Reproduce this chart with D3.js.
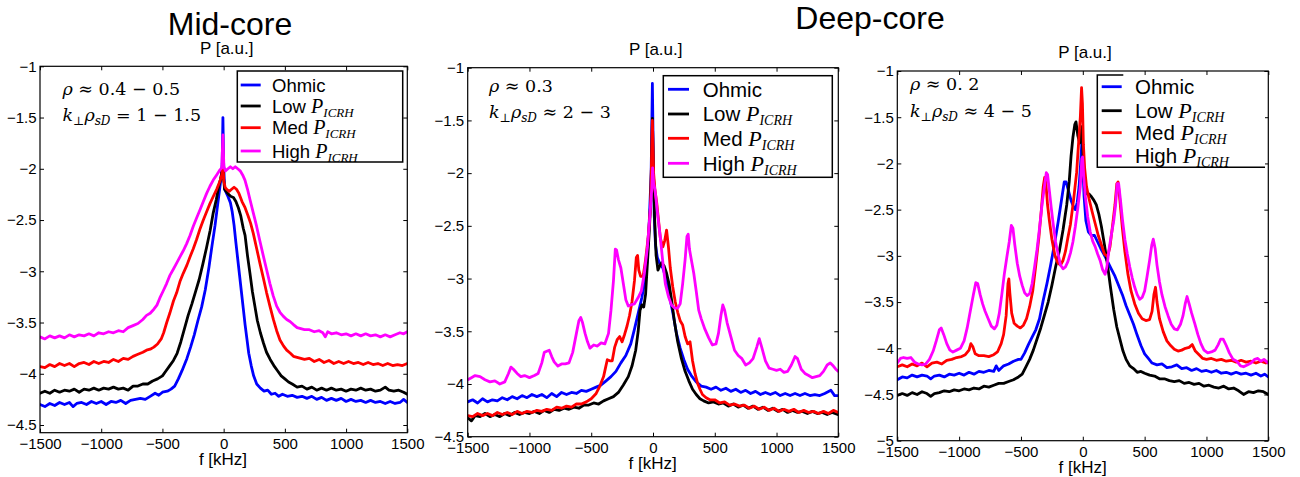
<!DOCTYPE html>
<html><head><meta charset="utf-8">
<script src="https://cdn.jsdelivr.net/npm/d3@7"></script>
<style>
body{margin:0;background:#fff;}
svg text{font-family:"Liberation Sans",Arial,Helvetica,sans-serif;fill:#000;}
</style></head><body>
<svg id="c" width="1300" height="477"></svg>
<script>
// ---------- data ----------
const seriesNames = ["Ohmic","Low","Med","High"];
const seriesHasP = [false,true,true,true];
const seriesColors = ["#0000ff","#000000","#ff0000","#ff00ff"];
const xTickValues = [-1500,-1000,-500,0,500,1000,1500];
const xTickLabels = ["\u22121500","\u22121000","\u2212500","0","500","1000","1500"];
const yTickValuesA = [-4.5,-4,-3.5,-3,-2.5,-2,-1.5,-1];
const yTickLabelsA = ["\u22124.5","\u22124","\u22123.5","\u22123","\u22122.5","\u22122","\u22121.5","\u22121"];
const yTickValuesB = [-5,-4.5,-4,-3.5,-3,-2.5,-2,-1.5,-1];
const yTickLabelsB = ["\u22125","\u22124.5","\u22124","\u22123.5","\u22123","\u22122.5","\u22122","\u22121.5","\u22121"];

// Mid-core (rho ~ 0.4-0.5)
const midOhmic = [[-1500,-4.30],[-1460,-4.32],[-1420,-4.29],[-1380,-4.31],[-1340,-4.28],[-1300,-4.30],[-1260,-4.28],[-1230,-4.32],[-1200,-4.29],[-1160,-4.28],[-1120,-4.30],[-1080,-4.27],[-1040,-4.29],[-1000,-4.27],[-960,-4.30],[-920,-4.27],[-880,-4.28],[-840,-4.26],[-800,-4.29],[-760,-4.26],[-720,-4.25],[-680,-4.24],[-640,-4.25],[-600,-4.22],[-560,-4.19],[-530,-4.21],[-500,-4.18],[-460,-4.17],[-430,-4.15],[-400,-4.12],[-370,-4.05],[-340,-3.97],[-300,-3.85],[-270,-3.74],[-240,-3.62],[-210,-3.48],[-180,-3.35],[-150,-3.18],[-120,-2.96],[-95,-2.75],[-70,-2.55],[-50,-2.36],[-35,-2.22],[-20,-2.08],[-12,-1.95],[-6,-1.50],[0,-1.95],[8,-2.20],[20,-2.23],[35,-2.27],[55,-2.33],[70,-2.42],[85,-2.55],[100,-2.72],[115,-2.88],[130,-3.04],[145,-3.20],[160,-3.36],[175,-3.52],[190,-3.66],[205,-3.80],[225,-3.92],[245,-4.02],[270,-4.10],[300,-4.14],[330,-4.17],[360,-4.16],[390,-4.20],[420,-4.19],[450,-4.22],[480,-4.20],[520,-4.22],[560,-4.21],[600,-4.23],[640,-4.22],[680,-4.24],[720,-4.22],[760,-4.25],[800,-4.23],[840,-4.26],[880,-4.24],[920,-4.26],[960,-4.24],[1000,-4.27],[1040,-4.25],[1080,-4.27],[1120,-4.26],[1160,-4.28],[1200,-4.26],[1240,-4.28],[1280,-4.27],[1320,-4.29],[1360,-4.27],[1400,-4.29],[1440,-4.28],[1470,-4.25],[1500,-4.28]];
const midLow = [[-1500,-4.19],[-1460,-4.17],[-1420,-4.19],[-1380,-4.16],[-1340,-4.18],[-1300,-4.16],[-1260,-4.17],[-1220,-4.15],[-1180,-4.18],[-1140,-4.15],[-1100,-4.16],[-1060,-4.14],[-1020,-4.16],[-980,-4.14],[-940,-4.15],[-900,-4.13],[-860,-4.15],[-820,-4.14],[-780,-4.16],[-740,-4.12],[-700,-4.12],[-660,-4.10],[-620,-4.10],[-580,-4.07],[-540,-4.05],[-500,-4.02],[-470,-3.97],[-440,-3.92],[-410,-3.87],[-380,-3.80],[-350,-3.69],[-320,-3.56],[-290,-3.43],[-260,-3.32],[-230,-3.20],[-200,-3.08],[-170,-2.93],[-140,-2.77],[-110,-2.60],[-85,-2.43],[-60,-2.30],[-40,-2.17],[-25,-2.10],[-12,-2.02],[-6,-1.97],[0,-2.10],[8,-2.20],[20,-2.22],[40,-2.25],[60,-2.27],[80,-2.28],[100,-2.32],[120,-2.38],[140,-2.46],[160,-2.58],[175,-2.65],[195,-2.85],[215,-3.02],[235,-3.20],[255,-3.34],[275,-3.48],[300,-3.60],[325,-3.70],[350,-3.79],[380,-3.86],[410,-3.92],[440,-3.97],[470,-4.02],[500,-4.05],[530,-4.08],[560,-4.10],[600,-4.13],[640,-4.12],[680,-4.15],[720,-4.13],[760,-4.16],[800,-4.14],[840,-4.16],[880,-4.14],[920,-4.16],[960,-4.15],[1000,-4.17],[1040,-4.15],[1080,-4.16],[1120,-4.14],[1160,-4.16],[1200,-4.15],[1240,-4.17],[1280,-4.16],[1320,-4.13],[1350,-4.16],[1390,-4.17],[1430,-4.16],[1470,-4.18],[1500,-4.20]];
const midMed = [[-1500,-3.93],[-1460,-3.94],[-1420,-3.91],[-1380,-3.93],[-1340,-3.90],[-1300,-3.92],[-1260,-3.90],[-1220,-3.93],[-1180,-3.90],[-1140,-3.89],[-1100,-3.91],[-1060,-3.88],[-1020,-3.90],[-980,-3.88],[-940,-3.89],[-900,-3.86],[-860,-3.88],[-820,-3.85],[-780,-3.86],[-740,-3.83],[-700,-3.81],[-660,-3.79],[-630,-3.77],[-600,-3.76],[-570,-3.74],[-540,-3.71],[-510,-3.66],[-490,-3.60],[-465,-3.50],[-440,-3.41],[-410,-3.29],[-384,-3.21],[-357,-3.10],[-330,-3.02],[-300,-2.94],[-275,-2.86],[-248,-2.78],[-221,-2.69],[-194,-2.59],[-166,-2.50],[-139,-2.42],[-112,-2.34],[-85,-2.27],[-57,-2.20],[-30,-2.12],[-15,-2.06],[-6,-1.96],[2,-2.12],[12,-2.18],[25,-2.20],[45,-2.22],[65,-2.20],[85,-2.18],[105,-2.20],[125,-2.24],[150,-2.32],[175,-2.38],[200,-2.46],[220,-2.53],[242,-2.63],[270,-2.78],[296,-2.92],[325,-3.07],[351,-3.21],[380,-3.35],[406,-3.47],[433,-3.58],[460,-3.67],[490,-3.73],[515,-3.77],[545,-3.80],[570,-3.83],[600,-3.84],[630,-3.85],[660,-3.86],[700,-3.85],[740,-3.88],[780,-3.86],[820,-3.89],[860,-3.87],[900,-3.90],[940,-3.88],[980,-3.90],[1020,-3.88],[1060,-3.90],[1100,-3.89],[1140,-3.91],[1180,-3.89],[1220,-3.91],[1260,-3.90],[1300,-3.92],[1340,-3.90],[1380,-3.92],[1420,-3.91],[1460,-3.92],[1500,-3.90]];
const midHigh = [[-1500,-3.64],[-1460,-3.66],[-1420,-3.63],[-1380,-3.65],[-1340,-3.63],[-1300,-3.65],[-1260,-3.62],[-1220,-3.64],[-1180,-3.62],[-1140,-3.63],[-1100,-3.61],[-1060,-3.63],[-1020,-3.60],[-980,-3.61],[-940,-3.59],[-900,-3.60],[-860,-3.58],[-820,-3.59],[-780,-3.55],[-740,-3.53],[-700,-3.51],[-660,-3.47],[-630,-3.43],[-600,-3.41],[-570,-3.37],[-545,-3.33],[-521,-3.26],[-493,-3.19],[-466,-3.12],[-439,-3.04],[-411,-2.98],[-384,-2.92],[-357,-2.86],[-330,-2.80],[-302,-2.73],[-275,-2.65],[-248,-2.56],[-221,-2.48],[-193,-2.40],[-166,-2.32],[-139,-2.24],[-112,-2.17],[-85,-2.11],[-57,-2.06],[-30,-2.01],[-15,-1.99],[-6,-1.67],[2,-1.98],[15,-2.02],[35,-2.00],[55,-1.98],[75,-2.00],[95,-1.98],[115,-2.00],[135,-2.02],[155,-2.06],[174,-2.11],[195,-2.20],[215,-2.30],[240,-2.42],[269,-2.56],[295,-2.70],[324,-2.85],[350,-2.98],[378,-3.12],[405,-3.24],[433,-3.34],[460,-3.40],[488,-3.44],[515,-3.47],[542,-3.49],[570,-3.52],[600,-3.55],[630,-3.56],[660,-3.57],[700,-3.57],[740,-3.59],[780,-3.58],[810,-3.60],[830,-3.64],[850,-3.59],[880,-3.61],[920,-3.60],[960,-3.62],[1000,-3.61],[1040,-3.63],[1080,-3.61],[1120,-3.63],[1160,-3.61],[1200,-3.63],[1240,-3.62],[1280,-3.64],[1320,-3.62],[1360,-3.64],[1400,-3.62],[1440,-3.60],[1470,-3.61],[1500,-3.59]];

// Deep-core (rho ~ 0.3)
const d3Ohmic = [[-1500,-4.17],[-1460,-4.15],[-1420,-4.18],[-1380,-4.14],[-1340,-4.17],[-1300,-4.15],[-1260,-4.16],[-1220,-4.13],[-1180,-4.15],[-1140,-4.12],[-1100,-4.14],[-1060,-4.11],[-1020,-4.13],[-980,-4.10],[-940,-4.12],[-900,-4.10],[-860,-4.13],[-820,-4.09],[-780,-4.12],[-740,-4.08],[-700,-4.10],[-660,-4.08],[-620,-4.09],[-580,-4.06],[-540,-4.07],[-500,-4.05],[-460,-4.03],[-420,-4.01],[-380,-3.97],[-340,-3.93],[-300,-3.88],[-260,-3.80],[-220,-3.73],[-180,-3.62],[-150,-3.48],[-120,-3.33],[-90,-3.18],[-70,-3.05],[-50,-2.85],[-30,-2.45],[-15,-2.0],[-5,-1.15],[3,-1.9],[10,-2.4],[20,-2.68],[35,-2.80],[55,-2.86],[80,-2.90],[100,-2.98],[130,-3.15],[160,-3.32],[190,-3.52],[220,-3.66],[250,-3.77],[280,-3.86],[310,-3.92],[350,-3.98],[390,-4.02],[430,-4.03],[470,-4.05],[510,-4.03],[550,-4.06],[590,-4.04],[630,-4.07],[670,-4.05],[710,-4.08],[750,-4.06],[790,-4.09],[830,-4.07],[870,-4.10],[910,-4.08],[950,-4.10],[990,-4.08],[1030,-4.11],[1070,-4.09],[1110,-4.11],[1150,-4.09],[1190,-4.11],[1230,-4.09],[1270,-4.11],[1310,-4.10],[1350,-4.11],[1390,-4.09],[1440,-4.06],[1470,-4.11],[1500,-4.11]];
const d3Low = [[-1500,-4.32],[-1470,-4.35],[-1440,-4.30],[-1400,-4.31],[-1360,-4.28],[-1320,-4.31],[-1280,-4.29],[-1240,-4.31],[-1200,-4.28],[-1160,-4.30],[-1120,-4.27],[-1080,-4.29],[-1040,-4.27],[-1000,-4.28],[-960,-4.26],[-920,-4.28],[-880,-4.25],[-840,-4.27],[-800,-4.24],[-760,-4.25],[-720,-4.23],[-680,-4.24],[-640,-4.22],[-600,-4.23],[-560,-4.20],[-520,-4.20],[-480,-4.18],[-440,-4.19],[-400,-4.16],[-360,-4.14],[-320,-4.12],[-280,-4.08],[-240,-4.01],[-200,-3.93],[-170,-3.83],[-140,-3.68],[-120,-3.50],[-105,-3.30],[-90,-3.25],[-75,-3.27],[-60,-3.15],[-45,-2.85],[-30,-2.55],[-18,-2.25],[-5,-1.48],[4,-2.0],[12,-2.4],[25,-2.78],[40,-2.92],[55,-2.88],[70,-2.85],[90,-2.88],[110,-2.95],[130,-3.05],[150,-3.20],[175,-3.42],[200,-3.60],[230,-3.76],[260,-3.88],[290,-3.97],[320,-4.05],[350,-4.10],[380,-4.14],[410,-4.16],[450,-4.18],[490,-4.17],[530,-4.19],[570,-4.18],[610,-4.21],[650,-4.19],[690,-4.22],[730,-4.20],[770,-4.23],[810,-4.21],[850,-4.24],[890,-4.22],[930,-4.25],[970,-4.23],[1010,-4.26],[1050,-4.24],[1090,-4.27],[1130,-4.25],[1170,-4.27],[1210,-4.26],[1250,-4.28],[1290,-4.26],[1330,-4.28],[1370,-4.27],[1410,-4.29],[1450,-4.27],[1500,-4.29]];
const d3Med = [[-1500,-4.30],[-1460,-4.31],[-1420,-4.28],[-1380,-4.30],[-1340,-4.28],[-1300,-4.30],[-1260,-4.27],[-1220,-4.29],[-1180,-4.27],[-1140,-4.29],[-1100,-4.26],[-1060,-4.28],[-1020,-4.26],[-980,-4.27],[-940,-4.25],[-900,-4.26],[-860,-4.24],[-820,-4.25],[-780,-4.22],[-740,-4.23],[-700,-4.21],[-660,-4.22],[-620,-4.19],[-580,-4.19],[-540,-4.17],[-500,-4.14],[-460,-4.09],[-430,-4.02],[-400,-3.93],[-385,-3.85],[-370,-3.77],[-350,-3.78],[-330,-3.78],[-310,-3.65],[-290,-3.58],[-270,-3.55],[-250,-3.60],[-230,-3.53],[-210,-3.45],[-190,-3.35],[-170,-3.22],[-150,-3.02],[-135,-2.80],[-125,-2.78],[-115,-2.92],[-100,-2.98],[-80,-2.98],[-60,-2.82],[-40,-2.62],[-20,-2.32],[-5,-1.50],[5,-2.0],[15,-2.15],[30,-2.28],[45,-2.45],[60,-2.62],[80,-2.70],[95,-2.64],[110,-2.54],[125,-2.70],[140,-2.90],[160,-3.08],[180,-3.22],[200,-3.32],[220,-3.40],[240,-3.44],[260,-3.55],[280,-3.62],[300,-3.60],[320,-3.78],[340,-3.90],[360,-3.99],[380,-4.05],[400,-4.10],[430,-4.13],[460,-4.15],[500,-4.15],[540,-4.18],[580,-4.17],[620,-4.20],[660,-4.19],[700,-4.21],[740,-4.20],[780,-4.23],[820,-4.21],[860,-4.24],[900,-4.22],[940,-4.25],[980,-4.23],[1020,-4.26],[1060,-4.24],[1100,-4.26],[1140,-4.24],[1180,-4.27],[1220,-4.25],[1260,-4.27],[1300,-4.26],[1340,-4.28],[1380,-4.26],[1420,-4.28],[1460,-4.25],[1500,-4.27]];
const d3High = [[-1500,-3.96],[-1470,-3.94],[-1440,-3.92],[-1400,-3.93],[-1360,-3.96],[-1320,-3.98],[-1280,-3.97],[-1240,-4.00],[-1200,-3.98],[-1170,-3.90],[-1150,-3.84],[-1130,-3.86],[-1100,-3.90],[-1070,-3.93],[-1040,-3.92],[-1000,-3.94],[-960,-3.92],[-930,-3.90],[-900,-3.80],[-880,-3.70],[-860,-3.69],[-840,-3.68],[-820,-3.74],[-800,-3.79],[-770,-3.83],[-740,-3.81],[-710,-3.81],[-680,-3.80],[-650,-3.70],[-620,-3.52],[-600,-3.40],[-585,-3.37],[-570,-3.42],[-550,-3.52],[-530,-3.60],[-510,-3.66],[-480,-3.63],[-450,-3.64],[-420,-3.61],[-390,-3.62],[-360,-3.52],[-340,-3.30],[-320,-3.02],[-305,-2.72],[-295,-2.73],[-280,-2.82],[-260,-2.90],[-240,-3.05],[-220,-3.20],[-200,-3.26],[-180,-3.25],[-150,-3.24],[-120,-3.18],[-95,-3.12],[-70,-2.95],[-45,-2.70],[-25,-2.40],[-10,-2.15],[-3,-1.95],[5,-2.1],[15,-2.15],[25,-2.25],[40,-2.42],[60,-2.62],[80,-2.85],[100,-3.05],[125,-3.17],[150,-3.25],[175,-3.28],[200,-3.28],[220,-3.24],[240,-3.05],[260,-2.82],[275,-2.60],[285,-2.58],[295,-2.72],[310,-2.82],[330,-2.95],[350,-3.12],[370,-3.30],[390,-3.38],[420,-3.48],[450,-3.56],[480,-3.63],[510,-3.62],[530,-3.52],[550,-3.35],[565,-3.25],[580,-3.30],[600,-3.42],[630,-3.55],[660,-3.68],[690,-3.73],[720,-3.76],[750,-3.82],[780,-3.80],[810,-3.76],[840,-3.65],[860,-3.57],[880,-3.65],[910,-3.78],[940,-3.85],[970,-3.86],[1000,-3.87],[1030,-3.86],[1060,-3.89],[1090,-3.88],[1120,-3.82],[1150,-3.74],[1170,-3.76],[1200,-3.86],[1230,-3.90],[1260,-3.92],[1290,-3.94],[1320,-3.93],[1350,-3.92],[1380,-3.88],[1410,-3.82],[1435,-3.80],[1460,-3.83],[1480,-3.86],[1500,-3.88]];

// Deep-core (rho ~ 0.2)
const d2Ohmic = [[-1500,-4.34],[-1460,-4.31],[-1420,-4.32],[-1380,-4.29],[-1340,-4.31],[-1300,-4.29],[-1260,-4.30],[-1230,-4.33],[-1200,-4.30],[-1160,-4.29],[-1120,-4.31],[-1080,-4.28],[-1040,-4.29],[-1000,-4.27],[-960,-4.29],[-920,-4.26],[-880,-4.28],[-840,-4.25],[-800,-4.26],[-760,-4.24],[-720,-4.25],[-700,-4.19],[-680,-4.24],[-640,-4.19],[-600,-4.17],[-560,-4.14],[-520,-4.12],[-500,-4.12],[-470,-4.05],[-440,-3.96],[-410,-3.88],[-380,-3.80],[-350,-3.68],[-320,-3.48],[-290,-3.30],[-260,-3.10],[-230,-2.88],[-200,-2.64],[-175,-2.42],[-150,-2.20],[-135,-2.20],[-115,-2.30],[-95,-2.40],[-75,-2.47],[-60,-2.50],[-45,-2.42],[-30,-2.25],[-15,-1.95],[-8,-1.78],[0,-2.0],[10,-2.35],[25,-2.62],[45,-2.74],[70,-2.78],[95,-2.78],[120,-2.85],[145,-2.92],[170,-2.98],[200,-3.06],[230,-3.14],[260,-3.22],[290,-3.32],[320,-3.42],[350,-3.54],[380,-3.64],[410,-3.74],[440,-3.86],[470,-3.97],[500,-4.06],[530,-4.11],[560,-4.16],[600,-4.18],[640,-4.17],[680,-4.21],[720,-4.20],[760,-4.18],[800,-4.22],[840,-4.21],[880,-4.24],[920,-4.22],[960,-4.25],[1000,-4.24],[1040,-4.26],[1080,-4.24],[1120,-4.27],[1160,-4.26],[1200,-4.28],[1240,-4.26],[1280,-4.28],[1320,-4.27],[1360,-4.29],[1400,-4.27],[1440,-4.30],[1470,-4.28],[1500,-4.31]];
const d2Low = [[-1500,-4.51],[-1460,-4.49],[-1420,-4.51],[-1380,-4.48],[-1340,-4.50],[-1300,-4.47],[-1260,-4.49],[-1230,-4.52],[-1200,-4.49],[-1160,-4.48],[-1120,-4.46],[-1080,-4.47],[-1040,-4.45],[-1000,-4.46],[-960,-4.44],[-920,-4.45],[-880,-4.43],[-840,-4.44],[-800,-4.41],[-760,-4.42],[-720,-4.40],[-680,-4.38],[-640,-4.38],[-600,-4.36],[-560,-4.34],[-520,-4.31],[-490,-4.28],[-460,-4.20],[-430,-4.12],[-400,-4.02],[-370,-3.90],[-340,-3.78],[-310,-3.64],[-280,-3.50],[-250,-3.32],[-220,-3.12],[-190,-2.95],[-160,-2.72],[-130,-2.45],[-110,-2.20],[-95,-1.92],[-80,-1.72],[-65,-1.58],[-55,-1.55],[-40,-1.70],[-25,-1.78],[-12,-1.62],[-5,-1.60],[5,-2.05],[15,-2.28],[30,-2.33],[50,-2.33],[70,-2.36],[90,-2.40],[110,-2.45],[130,-2.55],[150,-2.68],[175,-2.88],[200,-3.10],[225,-3.35],[250,-3.58],[275,-3.77],[300,-3.90],[325,-4.03],[350,-4.12],[380,-4.19],[410,-4.22],[440,-4.26],[470,-4.25],[500,-4.27],[540,-4.29],[580,-4.30],[620,-4.33],[660,-4.33],[700,-4.35],[740,-4.36],[780,-4.35],[820,-4.38],[860,-4.37],[900,-4.39],[940,-4.38],[980,-4.41],[1020,-4.40],[1060,-4.42],[1100,-4.43],[1140,-4.41],[1180,-4.44],[1220,-4.43],[1260,-4.46],[1300,-4.50],[1340,-4.47],[1380,-4.48],[1420,-4.46],[1460,-4.47],[1500,-4.50]];
const d2Med = [[-1500,-4.20],[-1460,-4.18],[-1420,-4.20],[-1380,-4.17],[-1340,-4.19],[-1300,-4.16],[-1260,-4.20],[-1220,-4.16],[-1180,-4.15],[-1140,-4.17],[-1100,-4.13],[-1060,-4.12],[-1020,-4.10],[-980,-4.09],[-950,-4.07],[-920,-4.02],[-905,-3.95],[-890,-3.98],[-870,-4.06],[-840,-4.08],[-800,-4.08],[-760,-4.09],[-720,-4.07],[-690,-4.04],[-660,-3.95],[-640,-3.85],[-620,-3.65],[-605,-3.30],[-598,-3.25],[-590,-3.40],[-575,-3.62],[-555,-3.73],[-530,-3.76],[-505,-3.78],[-480,-3.75],[-455,-3.68],[-430,-3.55],[-405,-3.38],[-380,-3.10],[-355,-2.80],[-335,-2.50],[-320,-2.25],[-308,-2.15],[-298,-2.22],[-285,-2.45],[-270,-2.62],[-250,-2.82],[-225,-3.00],[-200,-3.08],[-180,-3.10],[-160,-3.05],[-140,-2.95],[-120,-2.80],[-100,-2.66],[-75,-2.40],[-50,-2.10],[-35,-1.80],[-20,-1.50],[-10,-1.18],[-3,-1.35],[5,-1.80],[15,-2.05],[30,-2.25],[50,-2.38],[75,-2.52],[100,-2.65],[125,-2.78],[150,-2.88],[175,-2.98],[200,-3.01],[220,-2.90],[240,-2.68],[260,-2.45],[275,-2.22],[285,-2.20],[300,-2.40],[320,-2.70],[340,-2.95],[365,-3.20],[390,-3.38],[420,-3.52],[450,-3.62],[480,-3.68],[510,-3.70],[540,-3.69],[560,-3.60],[575,-3.42],[588,-3.34],[600,-3.50],[620,-3.68],[650,-3.82],[680,-3.92],[710,-3.97],[740,-4.01],[770,-4.03],[800,-4.02],[830,-4.00],[860,-3.99],[885,-3.96],[910,-4.03],[940,-4.07],[970,-4.11],[1000,-4.12],[1040,-4.11],[1080,-4.13],[1120,-4.12],[1160,-4.14],[1200,-4.13],[1240,-4.15],[1280,-4.13],[1320,-4.15],[1360,-4.14],[1400,-4.16],[1440,-4.14],[1480,-4.16],[1500,-4.15]];
const d2High = [[-1500,-4.16],[-1475,-4.11],[-1450,-4.10],[-1420,-4.11],[-1390,-4.10],[-1360,-4.15],[-1330,-4.17],[-1300,-4.18],[-1270,-4.17],[-1240,-4.12],[-1210,-4.03],[-1185,-3.92],[-1160,-3.80],[-1145,-3.78],[-1125,-3.85],[-1100,-3.95],[-1075,-4.02],[-1050,-4.04],[-1020,-4.02],[-990,-4.00],[-960,-3.92],[-935,-3.78],[-910,-3.60],[-885,-3.42],[-865,-3.29],[-850,-3.30],[-830,-3.42],[-810,-3.52],[-790,-3.60],[-765,-3.68],[-740,-3.76],[-715,-3.79],[-695,-3.75],[-675,-3.62],[-655,-3.42],[-635,-3.20],[-615,-3.02],[-595,-2.85],[-578,-2.67],[-565,-2.70],[-550,-2.88],[-530,-3.08],[-510,-3.22],[-490,-3.32],[-470,-3.40],[-450,-3.43],[-430,-3.41],[-410,-3.30],[-390,-3.12],[-370,-2.93],[-350,-2.70],[-330,-2.45],[-310,-2.25],[-295,-2.10],[-285,-2.12],[-270,-2.30],[-255,-2.48],[-240,-2.65],[-220,-2.85],[-200,-2.98],[-180,-3.10],[-160,-3.14],[-140,-3.12],[-120,-3.06],[-100,-2.97],[-80,-2.85],[-60,-2.68],[-40,-2.48],[-20,-2.25],[-8,-1.95],[-2,-1.93],[8,-2.15],[20,-2.35],[40,-2.58],[60,-2.74],[80,-2.84],[100,-2.90],[120,-2.98],[140,-3.05],[160,-3.15],[180,-3.20],[195,-3.12],[210,-2.95],[230,-2.78],[250,-2.62],[265,-2.45],[278,-2.22],[290,-2.22],[305,-2.40],[320,-2.60],[340,-2.82],[360,-2.98],[380,-3.12],[400,-3.24],[420,-3.34],[440,-3.42],[460,-3.47],[480,-3.45],[500,-3.38],[520,-3.22],[540,-3.05],[558,-2.88],[570,-2.82],[585,-2.92],[600,-3.10],[620,-3.28],[640,-3.42],[665,-3.55],[690,-3.65],[715,-3.74],[740,-3.79],[765,-3.80],[790,-3.74],[810,-3.65],[828,-3.52],[843,-3.44],[860,-3.52],[880,-3.62],[905,-3.73],[930,-3.85],[955,-3.95],[980,-4.02],[1010,-4.05],[1040,-4.04],[1070,-4.02],[1095,-3.96],[1115,-3.90],[1135,-3.90],[1160,-3.97],[1185,-4.05],[1215,-4.12],[1245,-4.14],[1275,-4.19],[1300,-4.20],[1330,-4.18],[1360,-4.16],[1390,-4.12],[1415,-4.11],[1440,-4.14],[1465,-4.12],[1500,-4.16]];

// ---------- layout ----------
const panels = [
  {id:"a", left:40, right:407.3, top:66.3, bottom:432.7, yDomain:[-4.575,-1], yTicks:yTickValuesA, yLabels:yTickLabelsA,
   series:[midOhmic,midLow,midMed,midHigh],
   pLabel:[226.7,54], fLabel:[223,465],
   ann:{x:62.5, y1:95, y2:121, l1:["\u03C1"," \u2248 0.4 \u2212 0.5"], rel:"=", rhs:" 1 \u2212 1.5"},
   leg:{x:237.3,y:71,w:165.4,h:91,lx1:240.7,lx2:260.7,tx:272,rows:[85,106,127.7,151],fs:18.5,pfs:20,sub:13,border:"full"}},
  {id:"b", left:467.7, right:838.3, top:67.7, bottom:436.7, yDomain:[-4.5,-1], yTicks:yTickValuesA, yLabels:yTickLabelsA,
   series:[d3Ohmic,d3Low,d3Med,d3High],
   pLabel:[655.7,55], fLabel:[652.7,469],
   ann:{x:489, y1:92, y2:118, l1:["\u03C1"," \u2248 0.3"], rel:"\u2248", rhs:" 2 \u2212 3"},
   leg:{x:663.3,y:75.7,w:169,h:101.6,lx1:668,lx2:689,tx:702.7,rows:[89.3,114,138.3,163.3],fs:20.5,pfs:22,sub:14,border:"full"}},
  {id:"c", left:897.3, right:1268.3, top:71, bottom:440.7, yDomain:[-5,-1], yTicks:yTickValuesB, yLabels:yTickLabelsB,
   series:[d2Ohmic,d2Low,d2Med,d2High],
   pLabel:[1085,58], fLabel:[1082.7,473],
   ann:{x:910, y1:90, y2:117, l1:["\u03C1"," \u2248 0. 2"], rel:"\u2248", rhs:" 4 \u2212 5"},
   leg:{x:1097.3,y:75,w:167.7,h:92.3,lx1:1101.7,lx2:1121.7,tx:1135,rows:[86.7,110.7,132.7,156],fs:20.5,pfs:22,sub:14,border:"partial"}}
];

const svg = d3.select("#c");
svg.append("rect").attr("width",1300).attr("height",477).attr("fill","#fff");

svg.append("text").attr("x",230).attr("y",35).attr("text-anchor","middle").attr("font-size",32).text("Mid-core");
svg.append("text").attr("x",870).attr("y",29).attr("text-anchor","middle").attr("font-size",32).text("Deep-core");

const defs = svg.append("defs");

panels.forEach(p => {
  const x = d3.scaleLinear().domain([-1500,1500]).range([p.left,p.right]);
  const y = d3.scaleLinear().domain(p.yDomain).range([p.bottom,p.top]);
  const g = svg.append("g");

  defs.append("clipPath").attr("id","clip"+p.id).append("rect")
    .attr("x",p.left).attr("y",p.top).attr("width",p.right-p.left).attr("height",p.bottom-p.top);

  const line = d3.line().x(d=>x(d[0])).y(d=>y(d[1]));
  const lg = g.append("g").attr("clip-path","url(#clip"+p.id+")");
  p.series.forEach((s,i) => {
    lg.append("path").attr("d",line(s)).attr("fill","none")
      .attr("stroke",seriesColors[i]).attr("stroke-width",2.8)
      .attr("stroke-linejoin","round").attr("stroke-linecap","round");
  });

  // axes
  const ax = (gen, tr) => {
    const a = g.append("g").attr("transform",tr).call(gen);
    a.select(".domain").remove();
    a.selectAll("line").attr("stroke","#000").attr("stroke-width",1);
    a.attr("font-family",null).attr("font-size",null);
    a.selectAll("text").attr("font-size",15).style("font-family","'Liberation Sans',Arial,sans-serif");
    return a;
  };
  ax(d3.axisBottom(x).tickValues(xTickValues).tickFormat((d,i)=>xTickLabels[i]).tickSizeInner(-4).tickSizeOuter(0).tickPadding(6),
     `translate(0,${p.bottom})`);
  ax(d3.axisTop(x).tickValues(xTickValues).tickFormat("").tickSizeInner(-4).tickSizeOuter(0),
     `translate(0,${p.top})`);
  ax(d3.axisLeft(y).tickValues(p.yTicks).tickFormat((d,i)=>p.yLabels[i]).tickSizeInner(-4).tickSizeOuter(0).tickPadding(3.5),
     `translate(${p.left},0)`);
  ax(d3.axisRight(y).tickValues(p.yTicks).tickFormat("").tickSizeInner(-4).tickSizeOuter(0),
     `translate(${p.right},0)`);
  g.append("rect").attr("x",p.left).attr("y",p.top).attr("width",p.right-p.left).attr("height",p.bottom-p.top)
    .attr("fill","none").attr("stroke","#000").attr("stroke-width",1.2);

  g.append("text").attr("x",p.pLabel[0]).attr("y",p.pLabel[1]).attr("text-anchor","middle").attr("font-size",17).text("P [a.u.]");
  g.append("text").attr("x",p.fLabel[0]).attr("y",p.fLabel[1]).attr("text-anchor","middle").attr("font-size",17).text("f [kHz]");

  // annotation
  const serif = "'DejaVu Serif','Liberation Serif',serif";
  const t1 = g.append("text").attr("x",p.ann.x).attr("y",p.ann.y1).attr("font-size",17.5).style("font-family",serif);
  t1.append("tspan").attr("font-style","italic").text(p.ann.l1[0]);
  t1.append("tspan").text(p.ann.l1[1]);
  const t2 = g.append("text").attr("x",p.ann.x).attr("y",p.ann.y2).attr("font-size",17.5).style("font-family",serif);
  t2.append("tspan").attr("font-style","italic").text("k");
  t2.append("tspan").attr("font-size",12).attr("dy",4).text("\u22A5");
  t2.append("tspan").attr("font-style","italic").attr("dy",-4).text("\u03C1");
  t2.append("tspan").attr("font-style","italic").attr("font-size",12).attr("dy",4).text("sD");
  t2.append("tspan").attr("dy",-4).text(" " + p.ann.rel + p.ann.rhs);

  // legend
  const L = p.leg;
  const lgd = g.append("g");
  lgd.append("rect").attr("x",L.x).attr("y",L.y).attr("width",L.w).attr("height",L.h)
    .attr("fill","#fff").attr("stroke", L.border==="full" ? "#000" : "none").attr("stroke-width",1.5);
  if (L.border !== "full") {
    lgd.append("path").attr("d",`M${L.x+26},${L.y}H${L.x}V${L.y+L.h}H${L.x+L.w}`)
      .attr("fill","none").attr("stroke","#000").attr("stroke-width",1.5);
  }
  seriesNames.forEach((nm,i) => {
    const ry = L.rows[i];
    lgd.append("line").attr("x1",L.lx1).attr("x2",L.lx2).attr("y1",ry).attr("y2",ry)
      .attr("stroke",seriesColors[i]).attr("stroke-width",2.8);
    const tx = lgd.append("text").attr("x",L.tx).attr("y",ry + L.fs*0.36).attr("font-size",L.fs);
    tx.append("tspan").text(nm + (seriesHasP[i] ? " " : ""));
    if (seriesHasP[i]) {
      tx.append("tspan").style("font-family","'Liberation Serif',serif").attr("font-style","italic")
        .attr("font-size",L.pfs).text("P");
      tx.append("tspan").style("font-family","'Liberation Serif',serif").attr("font-style","italic")
        .attr("font-size",L.sub).attr("dy",4).text("ICRH");
    }
  });
});
</script>
</body></html>
